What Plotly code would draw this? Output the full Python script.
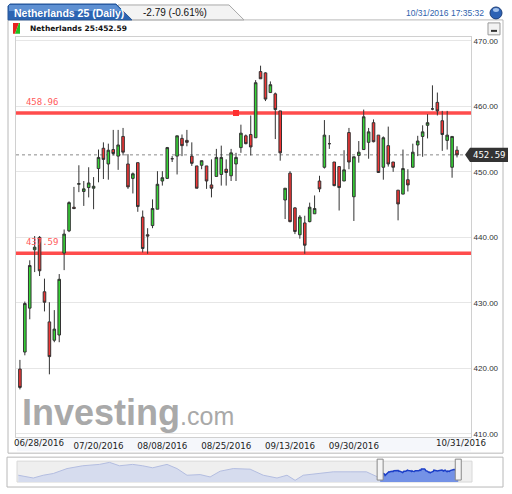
import pandas as pd
import plotly.graph_objects as go

W, H = 512, 494

# AEX daily candles, 06/28/2016 - 10/31/2016 (business days)
dates = pd.bdate_range("2016-06-28", "2016-10-31").strftime("%Y-%m-%d").tolist()

opens = [419.9, 422.5, 429.2, 438.1, 440.0, 431.7, 427.1, 424.3, 425.1, 437.6,
         441.0, 444.6, 448.1, 447.0, 447.6, 447.5, 450.5, 453.6, 451.2, 453.4,
         452.4, 455.4, 451.2, 449.0, 451.4, 443.1, 440.4, 441.8, 444.3, 448.6,
         449.0, 452.0, 452.4, 455.1, 454.8, 452.4, 450.9, 451.0, 450.9, 448.0,
         449.3, 449.6, 450.4, 449.4, 451.2, 453.7, 455.5, 455.7, 455.2, 465.3,
         465.1, 462.1, 461.9, 459.3, 445.7, 449.8, 444.5, 440.4, 442.2, 442.4,
         443.6, 448.6, 450.7, 454.3, 451.5, 450.8, 448.6, 456.0, 446.2, 452.5,
         453.4, 454.5, 457.5, 455.6, 450.7, 454.0, 451.5, 447.2, 446.6, 448.8,
         450.7, 454.1, 455.4, 457.1, 459.6, 460.6, 457.8, 454.8, 450.7, 453.3]
highs = [421.3, 430.2, 436.5, 440.2, 440.2, 433.7, 430.1, 428.9, 434.4, 441.2,
         445.5, 447.7, 451.0, 448.6, 450.7, 449.2, 453.4, 454.5, 454.3, 456.4,
         456.4, 456.7, 452.7, 449.9, 451.4, 444.1, 441.4, 445.8, 450.1, 450.1,
         453.8, 452.4, 455.5, 455.7, 456.4, 454.5, 450.9, 451.7, 450.9, 451.9,
         453.5, 454.0, 451.9, 453.5, 452.9, 457.2, 455.7, 458.6, 464.0, 466.2,
         465.2, 463.8, 462.1, 459.3, 447.5, 450.1, 444.6, 443.4, 443.3, 445.3,
         446.4, 449.4, 457.9, 455.6, 451.5, 450.8, 453.3, 456.7, 452.3, 454.7,
         459.5, 456.7, 458.0, 455.6, 455.4, 456.9, 451.5, 447.2, 453.4, 450.4,
         454.3, 455.5, 457.1, 458.8, 463.2, 462.1, 459.3, 459.3, 455.4, 453.9]
lows = [416.8, 422.0, 427.5, 434.7, 434.1, 428.7, 419.1, 424.0, 424.0, 435.0,
        440.8, 444.3, 446.9, 444.8, 446.1, 444.3, 448.4, 448.9, 448.8, 452.5,
        450.3, 452.5, 447.4, 446.7, 443.9, 437.7, 437.5, 441.4, 444.3, 447.9,
        448.9, 451.5, 449.6, 452.4, 453.9, 450.9, 447.5, 450.4, 447.4, 446.1,
        449.3, 447.9, 447.9, 448.6, 448.6, 452.9, 454.2, 452.5, 455.2, 464.2,
        460.8, 462.1, 455.0, 451.7, 442.8, 442.3, 440.5, 439.8, 437.5, 442.3,
        443.6, 446.9, 450.5, 453.5, 447.8, 444.1, 448.6, 450.4, 442.5, 451.4,
        453.4, 452.0, 454.5, 449.9, 448.8, 450.8, 450.0, 442.6, 446.6, 447.0,
        450.7, 452.4, 452.3, 455.1, 459.4, 458.6, 453.2, 453.4, 449.1, 452.2]
closes = [417.1, 429.9, 435.7, 438.5, 434.9, 430.1, 421.8, 426.0, 433.6, 440.5,
          445.3, 444.4, 448.2, 447.4, 448.3, 447.8, 452.2, 451.9, 453.3, 452.8,
          454.1, 453.0, 447.7, 449.7, 444.7, 438.3, 440.2, 444.4, 448.1, 449.1,
          453.7, 452.0, 455.5, 454.0, 454.5, 451.3, 447.5, 451.7, 448.6, 447.5,
          452.2, 452.2, 449.9, 452.9, 452.2, 455.9, 454.3, 453.8, 463.6, 464.2,
          461.1, 463.3, 459.5, 452.9, 447.5, 442.4, 440.9, 443.1, 438.8, 444.6,
          444.4, 447.4, 455.6, 454.3, 447.9, 447.6, 450.3, 451.5, 452.3, 453.0,
          458.4, 456.1, 454.6, 449.9, 455.2, 451.2, 450.7, 445.1, 450.5, 448.0,
          453.0, 454.7, 456.1, 457.5, 459.6, 459.3, 455.7, 455.6, 455.4, 452.59]

# horizontal levels drawn on the chart
levels = [458.96, 437.59]

y_ticks = [410, 420, 430, 440, 450, 460, 470]
tick_dates = ["2016-07-20", "2016-08-08", "2016-08-25", "2016-09-13", "2016-09-30"]
tick_text = ["07/20/2016", "08/08/2016", "08/25/2016", "09/13/2016", "09/30/2016"]

# navigator history before the visible window
nav_dates = ["2014-11-27", "2014-12-21", "2015-01-06", "2015-01-22", "2015-02-13", "2015-03-10",
             "2015-04-06", "2015-04-22", "2015-05-08", "2015-05-29", "2015-06-14", "2015-06-30",
             "2015-07-23", "2015-08-08", "2015-08-24", "2015-09-14", "2015-09-30", "2015-10-16",
             "2015-11-06", "2015-12-03", "2015-12-24", "2016-01-15", "2016-01-31", "2016-02-13",
             "2016-02-26", "2016-03-19", "2016-04-14", "2016-05-11", "2016-06-06", "2016-06-24"]
nav_values = [423, 405, 423, 434, 466, 484, 493, 506, 484, 493, 484, 471,
              493, 466, 423, 427, 412, 449, 466, 462, 423, 405, 423, 390,
              423, 434, 445, 445, 445, 412]

last_close = closes[-1]


def px(x):
    return x / W


def py(y):
    return 1 - y / H


def rect(x0, y0, x1, y1, **kw):
    return dict(type="rect", xref="paper", yref="paper", layer="below",
                x0=px(x0), y0=py(y1), x1=px(x1), y1=py(y0), **kw)


def poly(points, **kw):
    d = "M " + " L ".join(f"{px(x):.5f},{py(y):.5f}" for x, y in points) + " Z"
    return dict(type="path", xref="paper", yref="paper", layer="below", path=d, **kw)


fig = go.Figure()

# level labels (under the candles); invisible markers push the text up a bit
fig.add_trace(go.Scatter(
    x=[dates[0]] * len(levels), y=levels, mode="markers+text",
    marker=dict(size=8, opacity=0),
    text=[f"{v:.2f}" for v in levels], textposition="top right",
    textfont=dict(family="DejaVu Sans Mono", size=9, color="#ff5a5a"),
    hoverinfo="skip", showlegend=False,
))

fig.add_trace(go.Scatter(
    x=[dates[44]], y=[levels[0]], mode="markers",
    marker=dict(symbol="square", size=6, color="#ff3030"),
    hoverinfo="skip", showlegend=False,
))

fig.add_trace(go.Candlestick(
    x=dates, open=opens, high=highs, low=lows, close=closes,
    increasing=dict(fillcolor="#35d435", line=dict(color="#333333", width=1)),
    decreasing=dict(fillcolor="#f03535", line=dict(color="#333333", width=1)),
    whiskerwidth=0, showlegend=False,
))

# navigator
fig.add_trace(go.Scatter(
    x=nav_dates + [dates[0]], y=nav_values + [closes[0]],
    xaxis="x2", yaxis="y2", mode="lines", fill="tozeroy",
    line=dict(color="#b3bde0", width=1), fillcolor="#d6dcee",
    hoverinfo="skip", showlegend=False,
))
fig.add_trace(go.Scatter(
    x=dates, y=closes, xaxis="x2", yaxis="y2", mode="lines", fill="tozeroy",
    line=dict(color="#1c3fc8", width=1.5), fillcolor="#7492e6",
    hoverinfo="skip", showlegend=False,
))

shapes = [
    rect(8, 20, 503, 455, line=dict(color="#b8b8b8", width=1), fillcolor="white"),
    rect(17, 439, 471, 453, line=dict(width=0), fillcolor="#f5f7fb"),
    poly([(118, 20), (118, 5), (229, 5), (244, 20)], line=dict(color="#a8a8a8", width=1), fillcolor="#f3f3f3"),
    poly([(8, 20), (8, 6), (10, 4), (116, 4), (132, 20)], line=dict(color="#2a5898", width=1), fillcolor="#2b64b2"),
    poly([(9, 5), (116, 5), (122, 11), (9, 11)], line=dict(width=0), fillcolor="#5e90d2"),
    poly([(13, 23), (19, 23), (15, 34), (13, 34)], line=dict(width=0), fillcolor="#e82222"),
    poly([(19, 23), (20, 23), (20, 34), (15, 34)], line=dict(width=0), fillcolor="#22c022"),
    dict(type="circle", xref="paper", yref="paper", layer="below",
         x0=px(490), x1=px(502), y0=py(19), y1=py(7),
         line=dict(color="#1d3f7a", width=1), fillcolor="#2d62b5"),
    dict(type="circle", xref="paper", yref="paper", layer="below",
         x0=px(493), x1=px(499), y0=py(12), y1=py(8),
         line=dict(width=0), fillcolor="#a3c2ec"),
    rect(488, 23, 500, 35, line=dict(color="#999999", width=1), fillcolor="#f2f2f2"),
    dict(type="line", xref="paper", yref="paper", x0=px(491), x1=px(497), y0=py(31), y1=py(31),
         line=dict(color="#333333", width=2)),
    rect(7, 459, 503, 489, line=dict(color="#b8b8b8", width=1), fillcolor="white"),
    rect(17, 463, 472, 484, line=dict(color="#d8d8d8", width=1), fillcolor="#efefef"),
]

for lv in levels:
    shapes.append(dict(type="line", xref="paper", yref="y", x0=px(16), x1=px(471), y0=lv, y1=lv,
                       layer="between", line=dict(color="rgba(255,45,45,0.85)", width=3.5)))

shapes.append(dict(type="line", xref="paper", yref="y", x0=px(16), x1=px(471),
                   y0=last_close, y1=last_close, layer="between",
                   line=dict(color="#8a8a8a", width=1, dash="dot")))

# price tag on the right axis
half = 1.1
shapes.append(dict(
    type="path", xref="paper", yref="y", layer="above",
    path=(f"M {px(465)},{last_close} L {px(470)},{last_close + half} L {px(508)},{last_close + half} "
          f"L {px(508)},{last_close - half} L {px(470)},{last_close - half} Z"),
    line=dict(width=0), fillcolor="#333333",
))

for d in [dates[0], dates[-1]]:
    shapes.append(dict(type="rect", xref="x2", yref="paper", xsizemode="pixel", xanchor=d,
                       x0=-3, x1=3, y0=py(482), y1=py(461), layer="above",
                       line=dict(color="#888888", width=1), fillcolor="#f4f4f4"))

date_font = dict(family="DejaVu Sans", size=8.7, color="#222222")
annotations = [
    dict(text="<b>Netherlands 25 (Daily)</b>", x=px(12), y=py(13), xanchor="left", yanchor="middle",
         font=dict(family="Arial", size=10.5, color="white")),
    dict(text="-2.79 (-0.61%)", x=px(141), y=py(13), xanchor="left", yanchor="middle",
         font=dict(family="Arial", size=10, color="#111111")),
    dict(text="10/31/2016 17:35:32", x=px(486), y=py(13), xanchor="right", yanchor="middle",
         font=dict(family="Arial", size=8.5, color="#2f63ad")),
    dict(text=f"<b>Netherlands 25:{last_close:.2f}</b>", x=px(28), y=py(29), xanchor="left", yanchor="middle",
         font=dict(family="DejaVu Sans", size=7.5, color="#111111")),
    dict(text="<b>Investing</b><span style='font-size:25px'>.com</span>", x=px(20), y=py(437),
         xanchor="left", yanchor="bottom",
         font=dict(family="Liberation Sans, Arial", size=36, color="#a9a9a9")),
    # end labels of the date axis are pushed inside the frame
    dict(text="06/28/2016", xref="x", x=dates[0], xshift=-8, y=py(445), xanchor="left", yanchor="middle",
         font=date_font),
    dict(text="10/31/2016", xref="x", x=dates[-1], xshift=31, y=py(445), xanchor="right", yanchor="middle",
         font=date_font),
    dict(text=f"{last_close:.2f}", x=px(489), yref="y", y=last_close, xanchor="center", yanchor="middle",
         font=dict(family="DejaVu Sans Mono", size=9, color="white")),
]
for a in annotations:
    a.setdefault("xref", "paper")
    a.setdefault("yref", "paper")
    a["showarrow"] = False

fig.update_layout(
    width=W, height=H,
    margin=dict(l=0, r=0, t=0, b=0),
    paper_bgcolor="white",
    plot_bgcolor="white",
    showlegend=False,
    boxgap=0.25,
    shapes=shapes,
    annotations=annotations,
    xaxis=dict(type="category", categoryorder="array", categoryarray=dates,
               domain=[px(16), px(471)], range=[-0.8, 91.85],
               tickvals=tick_dates, ticktext=tick_text, ticks="",
               tickfont=date_font,
               showgrid=False, showline=True, linecolor="#d0d0d0", mirror=True,
               rangeslider=dict(visible=False), anchor="y", fixedrange=True),
    yaxis=dict(domain=[py(439), py(37)], range=[409.5, 470.6], side="right",
               tickvals=y_ticks, tickformat=".2f", ticks="",
               tickfont=dict(family="Arial", size=8, color="#333333"),
               gridcolor="#e6e6e6", showline=True, linecolor="#d0d0d0", mirror=True,
               zeroline=False, anchor="x", fixedrange=True),
    xaxis2=dict(type="date", domain=[px(17), px(472)], range=["2014-11-25", "2016-11-22"],
                anchor="y2", visible=False),
    yaxis2=dict(domain=[py(484), py(463)], range=[379, 514], anchor="x2", visible=False),
)

# the page body has a default margin; drop it so the figure fills the window
fig.write_html(
    "out.html",
    config={"displayModeBar": False},
    post_script=(
        "document.body.style.margin='0px';"
        "document.body.style.overflow='hidden';"
        "document.documentElement.style.overflow='hidden';"
    ),
)
